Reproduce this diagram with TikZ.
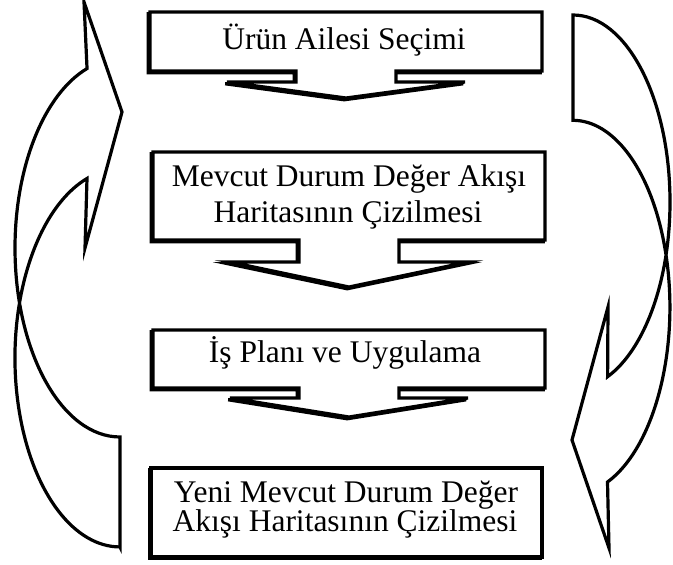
\documentclass[tikz,border=0pt]{standalone}
\usepackage{fontspec}
\setmainfont{Liberation Serif}

% Down-pointing callout: #1 centre x, #2 top, #3 bottom of the box,
% #4 level of the arrow wings, #5 level of the arrow tip
\newcommand\downcallout[5]{%
  (#1-196,#2) -- (#1+196,#2) -- (#1+196,#3) -- (#1+50,#3) -- (#1+50,#4)
  -- (#1+119,#4) -- (#1,#5) -- (#1-119,#4) -- (#1-50,#4) -- (#1-50,#3)
  -- (#1-196,#3) -- cycle}

\begin{document}
\begin{tikzpicture}[x=1pt, y=1pt,
  outline/.style={draw=black, line width=3.2pt, fill=white, line join=miter},
  dropshade/.style={draw=black, line width=3.2pt, shift={(-1.8,-1.8)}},
  loopband/.style={draw=black, line width=3.2pt, fill=white, line join=miter, miter limit=20},
  lbl/.style={font=\fontsize{31.5}{31.5}\selectfont, anchor=base, inner sep=0pt}]

\fill[white] (0,0) rectangle (673,565);
\useasboundingbox (0,0) rectangle (673,565);

% step 1
\draw[dropshade] \downcallout{346}{553}{494}{483}{467};
\draw[outline]   \downcallout{346}{553}{494}{483}{467};
\node[lbl] (t1) at (344,515) {Ürün Ailesi Seçimi};

% step 2
\draw[dropshade] \downcallout{349}{413}{325}{303}{278};
\draw[outline]   \downcallout{349}{413}{325}{303}{278};
\node[lbl] (t2a) at (349,378) {Mevcut Durum Değer Akışı};
\node[lbl] (t2b) at (348,342) {Haritasının Çizilmesi};

% step 3
\draw[dropshade] \downcallout{349}{235}{177}{167}{148};
\draw[outline]   \downcallout{349}{235}{177}{167}{148};
\node[lbl] (t3) at (345,202) {İş Planı ve Uygulama};

% step 4
\draw[dropshade] (151,8) rectangle (542,97);
\draw[outline]   (151,8) rectangle (542,97);
\node[lbl] (t4a) at (346,62) {Yeni Mevcut Durum Değer};
\node[lbl] (t4b) at (345,33) {Akışı Haritasının Çizilmesi};

% left loop arrow, pointing back up to the first step
\draw[loopband] (120,18) -- (120,128)
  arc[start angle=270, end angle=108.3, x radius=105pt, y radius=189pt]
  -- (84,563) -- (122,453) -- (85,317) -- (87,386.5)
  arc[start angle=108.3, end angle=270, x radius=105pt, y radius=189pt]
  -- cycle;

% right loop arrow, pointing down to the last step
\draw[loopband] (573,550)
  arc[start angle=90, end angle=-69.1, x radius=97pt, y radius=187pt]
  -- (608,258) -- (572,125) -- (609,17) -- (607.5,83)
  arc[start angle=-69.1, end angle=90, x radius=97pt, y radius=187pt]
  -- cycle;
\end{tikzpicture}
\end{document}
